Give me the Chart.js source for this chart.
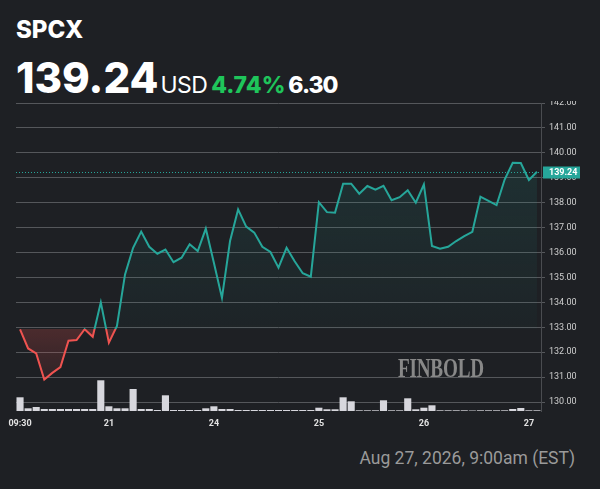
<!DOCTYPE html>
<html>
<head>
<meta charset="utf-8">
<script src="https://cdn.jsdelivr.net/npm/chart.js@4.4.1/dist/chart.umd.min.js"></script>
<style>
html, body { margin: 0; padding: 0; width: 600px; height: 489px; overflow: hidden; background: #1e2024; font-family: Inter, sans-serif; }
#sym { position: absolute; left: 16px; top: 18px; color: #fff; font-weight: 800; font-size: 24px; line-height: 1; letter-spacing: 0; }
#quote { position: absolute; left: 16px; top: 57px; display: flex; align-items: baseline; line-height: 1; white-space: nowrap; }
#quote .px { color: #fff; font-size: 42px; font-weight: 800; letter-spacing: 0; }
#quote .cur { color: #fff; font-size: 23px; font-weight: 400; margin-left: 2px; letter-spacing: -0.6px; }
#quote .pct { color: #1fc55b; font-size: 23px; font-weight: 800; margin-left: 4px; letter-spacing: 0; }
#quote .chg { color: #fff; font-size: 23px; font-weight: 800; margin-left: 3px; letter-spacing: -1px; }
#wrap { position: absolute; left: 0; top: 101px; width: 600px; height: 334px; overflow: hidden; }
#c { position: absolute; left: 0; top: -8px; }
#mark { position: absolute; left: 398px; top: 355px; color: #888888; font-family: "Liberation Serif", serif; font-weight: bold; font-size: 27px; line-height: 1; transform: scaleX(0.71); transform-origin: left top; letter-spacing: -0.3px; }
#stamp { position: absolute; right: 25px; top: 450px; color: #9a9a9a; font-family: Roboto, sans-serif; font-size: 17.5px; line-height: 1; }
</style>
</head>
<body>
<div id="sym">SPCX</div>
<div id="quote"><span class="px">139.24</span><span class="cur">USD</span><span class="pct">4.74%</span><span class="chg">6.30</span></div>
<div id="wrap"><canvas id="c" width="600" height="338" style="width:600px;height:338px"></canvas></div>
<div id="mark">FINBOLD</div>
<div id="stamp">Aug 27, 2026, 9:00am (EST)</div>
<script>
// 30 minute bars, Aug 20 09:30 -> Aug 27
const prices = [132.92, 132.15, 131.95, 130.90, 131.17, 131.40, 132.46, 132.49, 132.92, 132.62,
  134.00, 132.38, 133.05, 135.12, 136.19, 136.84, 136.23, 135.95, 136.12, 135.61,
  135.79, 136.33, 136.06, 136.96, 135.59, 134.18, 136.46, 137.73, 137.04, 136.80,
  136.23, 136.02, 135.39, 136.19, 135.65, 135.17, 135.03, 138.02, 137.62, 137.60,
  138.76, 138.76, 138.36, 138.67, 138.52, 138.68, 138.10, 138.22, 138.50, 138.00,
  138.73, 136.26, 136.15, 136.23, 136.46, 136.66, 136.83, 138.24, 138.07, 137.90,
  138.93, 139.60, 139.59, 138.91, 139.24]
const volumes = [137, 27, 40, 20, 20, 20, 20, 20, 20, 20,
  307, 47, 27, 27, 220, 20, 20, 10, 157, 10,
  10, 10, 10, 27, 47, 20, 20, 10, 10, 10,
  10, 10, 10, 10, 10, 10, 10, 33, 17, 17,
  137, 97, 7, 7, 7, 107, 7, 7, 127, 17,
  33, 57, 7, 7, 7, 7, 5, 7, 7, 7,
  7, 20, 30, 7, 7]
const tickLabels = ['09:30', '21', '24', '25', '26', '27']
const tickIndex = [0, 11, 24, 37, 50, 63]
const priceTicks = [130, 131, 132, 133, 134, 135, 136, 137, 138, 139, 140, 141, 142]
const openPrice = 132.94

const teal = '#26a69a'
const red = '#ef5350'

function splitGradient(chart, topColor, baseTop, baseBottom, bottomColor) {
  const area = chart.chartArea
  if (!area) return topColor
  const yb = chart.scales.y.getPixelForValue(openPrice)
  let s = (yb - area.top) / (area.bottom - area.top)
  s = Math.min(1, Math.max(0, s))
  const g = chart.ctx.createLinearGradient(0, area.top, 0, area.bottom)
  g.addColorStop(0, topColor)
  g.addColorStop(s, baseTop)
  g.addColorStop(s, baseBottom)
  g.addColorStop(1, bottomColor)
  return g
}

const lastPriceTag = {
  id: 'lastPriceTag',
  afterDatasetsDraw(chart) {
    const {ctx, chartArea: {left, right}, scales: {y}} = chart
    const last = prices[prices.length - 1]
    const py = Math.round(y.getPixelForValue(last)) + 0.5
    ctx.save()
    ctx.strokeStyle = teal
    ctx.lineWidth = 1
    ctx.setLineDash([1, 2])
    ctx.beginPath()
    ctx.moveTo(left, py)
    ctx.lineTo(right, py)
    ctx.stroke()
    ctx.setLineDash([])
    ctx.fillStyle = teal
    ctx.fillRect(right + 2, py - 6, 37, 12)
    ctx.fillStyle = '#ffffff'
    ctx.font = 'bold 9px Roboto'
    ctx.textBaseline = 'middle'
    ctx.fillText(last.toFixed(2), right + 8, py + 0.5)
    ctx.restore()
  }
}

new Chart(document.getElementById('c'), {
  type: 'bar',
  data: {
    labels: prices.map((p, i) => String(i)),
    datasets: [{
      type: 'line',
      data: prices,
      yAxisID: 'y',
      order: 0,
      borderWidth: 2,
      pointRadius: 0,
      tension: 0,
      borderColor: c => splitGradient(c.chart, teal, teal, red, red),
      backgroundColor: c => splitGradient(c.chart, 'rgba(38,166,154,0.16)', 'rgba(38,166,154,0.03)', 'rgba(239,83,80,0.22)', 'rgba(239,83,80,0.0)'),
      fill: {value: openPrice}
    }, {
      data: volumes,
      yAxisID: 'v',
      order: 1,
      backgroundColor: '#d7d7dd',
      barPercentage: 0.88,
      categoryPercentage: 1
    }]
  },
  options: {
    responsive: false,
    animation: false,
    layout: {padding: {left: 16, right: 0, top: 10, bottom: 0}},
    plugins: {legend: {display: false}, tooltip: {enabled: false}},
    scales: {
      x: {
        offset: true,
        grid: {display: false, drawTicks: false},
        border: {display: false},
        afterBuildTicks: axis => { axis.ticks = tickIndex.map(v => ({value: v})) },
        afterFit: axis => { axis.height = 20 },
        ticks: {
          autoSkip: false,
          maxRotation: 0,
          padding: 7,
          color: '#e2e2e2',
          font: {family: 'Roboto', size: 9, weight: 'bold'},
          callback: v => tickLabels[tickIndex.indexOf(v)]
        }
      },
      y: {
        position: 'right',
        min: 129.64,
        max: 142,
        afterBuildTicks: axis => { axis.ticks = priceTicks.map(v => ({value: v})) },
        afterFit: axis => { axis.width = 59 },
        grid: {color: '#55575b', lineWidth: 1, tickLength: 4},
        border: {color: '#4a4c50'},
        ticks: {
          padding: 4,
          color: '#cfcfcf',
          font: {family: 'Roboto', size: 9},
          callback: v => v.toFixed(2)
        }
      },
      v: {
        display: false,
        min: 0,
        max: 3080
      }
    }
  },
  plugins: [lastPriceTag]
})
</script>
</body>
</html>
